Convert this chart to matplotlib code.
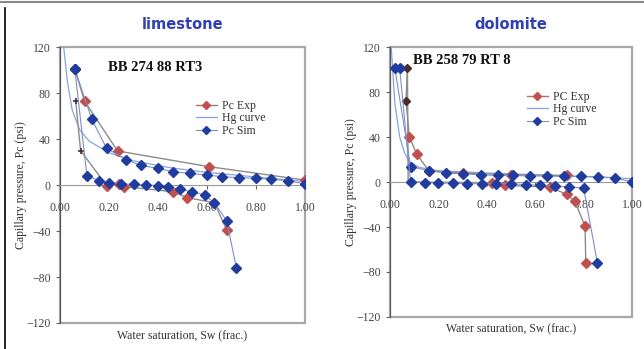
import matplotlib
matplotlib.use("Agg")
import matplotlib.pyplot as plt
from matplotlib.lines import Line2D

# ---- limestone (BB 274 88 RT3) ----
ls_sim_dr_sw = [0.06, 0.13, 0.19, 0.27, 0.33, 0.40, 0.46, 0.53, 0.60, 0.66, 0.73, 0.80, 0.86, 0.93, 1.00]
ls_sim_dr_pc = [101, 57, 32, 22, 17, 14.5, 11.6, 10.1, 8.7, 7.2, 6.4, 5.8, 4.9, 3.8, 0.9]
ls_sim_im_sw = [0.06, 0.11, 0.16, 0.20, 0.25, 0.30, 0.35, 0.40, 0.44, 0.49, 0.54, 0.59, 0.63, 0.68, 0.72]
ls_sim_im_pc = [101, 7.8, 3.8, 2.0, 0.9, 0.6, 0.0, -0.6, -2.0, -3.8, -5.8, -8.7, -15.4, -31, -72]
ls_exp_dr_sw = [0.06, 0.10, 0.235, 0.61, 1.00]
ls_exp_dr_pc = [101, 73, 29.6, 15.9, 4.3]
ls_exp_im_sw = [0.064, 0.084, 0.19, 0.24, 0.26, 0.46, 0.52, 0.63, 0.68]
ls_exp_im_pc = [73, 30, -0.6, 0.6, -1.4, -5.8, -11, -15.4, -39]
ls_hg_sw = [0.015, 0.03, 0.05, 0.08, 0.12, 0.20, 0.30, 0.45, 0.60, 0.80, 1.00]
ls_hg_pc = [120, 90, 65, 48, 38, 28, 21, 15, 11, 7, 3]
ls_dark = 2  # first points of the imbibition Exp branch drawn as small dark crosses

# ---- dolomite (BB 258 79 RT 8) ----
do_sim_dr_sw = [0.02, 0.085, 0.16, 0.23, 0.30, 0.375, 0.445, 0.51, 0.58, 0.65, 0.72, 0.79, 0.86, 0.93, 1.00]
do_sim_dr_pc = [101, 13.7, 10.2, 7.9, 7.3, 6.4, 5.8, 5.8, 5.3, 5.3, 4.9, 4.9, 4.4, 3.8, 0.0]
do_sim_im_sw = [0.04, 0.085, 0.145, 0.20, 0.26, 0.32, 0.38, 0.44, 0.50, 0.56, 0.62, 0.68, 0.74, 0.80, 0.857]
do_sim_im_pc = [101, 0.0, -0.6, -1.0, -1.0, -1.5, -1.5, -1.5, -1.5, -2.3, -3.0, -3.5, -4.4, -5.3, -72]
do_exp_dr_sw = [0.072, 0.066, 0.08, 0.11, 0.16, 0.30, 0.50, 0.73]
do_exp_dr_pc = [101, 72, 40, 25, 10, 8, 6.5, 5.8]
do_exp_im_sw = [0.072, 0.075, 0.42, 0.475, 0.66, 0.73, 0.764, 0.806, 0.809]
do_exp_im_pc = [101, 0.0, -0.6, -3.0, -4.4, -11, -17, -39.5, -72]
do_hg_sw = [0.005, 0.02, 0.04, 0.06, 0.08, 0.12, 0.20, 0.40, 0.60, 0.80, 1.00]
do_hg_pc = [120, 70, 40, 26, 18, 13, 10, 8, 6.5, 5, 3]

yticks = [-120, -80, -40, 0, 40, 80, 120]
xticks = [0.0, 0.2, 0.4, 0.6, 0.8, 1.0]

RED = "#c0504d"
BLUE = "#1f3c9e"
SIMLINE = "#7d8fc8"
HG = "#8aa2e0"
GREY = "#8c8c8c"
DARK = "#4a2c2c"
SERIF = "Liberation Serif"

fig = plt.figure(figsize=(6.44, 3.49), dpi=100)
fig.patch.set_facecolor("white")

# outer frame of the picture
fig.add_artist(Line2D([0, 1], [0.994, 0.994], color="#8a8a8a", lw=1.5))
fig.add_artist(Line2D([0.008, 0.008], [0, 0.977], color="black", lw=1.2))


def panel(rect, title, tag, tag_xy, leg_anchor, exp_label, d, dark_first):
    ax = fig.add_axes(rect)
    (sdr_x, sdr_y, sim_x, sim_y, edr_x, edr_y, eim_x, eim_y, hg_x, hg_y) = d

    ax.plot(hg_x, hg_y, color=HG, lw=0.9, zorder=2)
    ax.plot(edr_x, edr_y, color=GREY, lw=1.0, zorder=2)
    ax.plot(eim_x, eim_y, color=GREY, lw=1.0, zorder=2)

    # Exp markers; a few early points appear as small dark marks
    if dark_first == "ls":
        ax.plot(edr_x, edr_y, ls="none", marker="D", ms=5, color=RED, zorder=3)
        ax.plot(eim_x[ls_dark:], eim_y[ls_dark:], ls="none", marker="D", ms=5, color=RED, zorder=3)
        ax.plot(eim_x[:ls_dark], eim_y[:ls_dark], ls="none", marker="+", ms=5,
                mew=1.2, color=DARK, zorder=3)
    else:
        ax.plot(edr_x[2:], edr_y[2:], ls="none", marker="D", ms=5, color=RED, zorder=3)
        ax.plot(eim_x[2:], eim_y[2:], ls="none", marker="D", ms=5, color=RED, zorder=3)
        ax.plot(edr_x[:2], edr_y[:2], ls="none", marker="D", ms=4, color=DARK, zorder=3)

    ax.plot(sdr_x, sdr_y, color=SIMLINE, lw=0.8, marker="D", ms=5,
            mfc=BLUE, mec=BLUE, zorder=4)
    ax.plot(sim_x, sim_y, color=SIMLINE, lw=0.8, marker="D", ms=5,
            mfc=BLUE, mec=BLUE, zorder=4)

    ax.set_xlim(0, 1)
    ax.set_ylim(-120, 120)
    ax.set_yticks(yticks)
    ax.set_xticks(xticks)
    ax.set_xticklabels([f"{v:.2f}" for v in xticks])

    for s in ("top", "right"):
        ax.spines[s].set_visible(False)
    ax.spines["left"].set_color("#555555")
    ax.spines["bottom"].set_position(("data", 0))
    ax.spines["bottom"].set_color("#9a9a9a")
    ax.patch.set_edgecolor("#a8a8a8")
    ax.patch.set_linewidth(1.6)

    ax.tick_params(axis="both", direction="out", length=3, width=0.8,
                   colors="#666666", labelsize=8.5, labelcolor="#444444")
    ax.tick_params(axis="x", pad=9)
    for lab in ax.get_xticklabels() + ax.get_yticklabels():
        lab.set_fontfamily(SERIF)

    ax.set_xlabel("Water saturation, Sw (frac.)", fontfamily=SERIF, fontsize=8.5,
                  color="#333333")
    ax.xaxis.set_label_coords(0.5, -0.025)
    ax.set_ylabel("Capillary pressure, Pc (psi)", fontfamily=SERIF, fontsize=8.5,
                  color="#333333", labelpad=0)

    ax.set_title(title, fontsize=10.5, fontweight="bold", color="#2f3fb5",
                 fontfamily="DejaVu Sans", pad=13)
    ax.text(tag_xy[0], tag_xy[1], tag, transform=ax.transAxes, fontfamily=SERIF,
            fontsize=10.5, fontweight="bold", va="center", ha="left", color="#111111")

    handles = [
        Line2D([], [], color="#b07070", lw=1.0, marker="D", ms=4, mfc=RED, mec=RED),
        Line2D([], [], color=HG, lw=0.9),
        Line2D([], [], color=SIMLINE, lw=0.8, marker="D", ms=4, mfc=BLUE, mec=BLUE),
    ]
    leg = ax.legend(handles, [exp_label, "Hg curve", "Pc Sim"], loc="upper left",
                    bbox_to_anchor=leg_anchor, frameon=False, handlelength=1.8,
                    handletextpad=0.4, labelspacing=0.05, borderpad=0,
                    prop={"family": SERIF, "size": 8.5})
    for t in leg.get_texts():
        t.set_color("#333333")
    return ax


panel([0.0932, 0.0745, 0.3804, 0.7908], "limestone", "BB 274 88 RT3", (0.196, 0.924),
      (0.53, 0.83), "Pc Exp",
      (ls_sim_dr_sw, ls_sim_dr_pc, ls_sim_im_sw, ls_sim_im_pc, ls_exp_dr_sw, ls_exp_dr_pc,
       ls_exp_im_sw, ls_exp_im_pc, ls_hg_sw, ls_hg_pc), "ls")
panel([0.6056, 0.0917, 0.3758, 0.7736], "dolomite", "BB 258 79 RT 8", (0.095, 0.95),
      (0.54, 0.86), "PC Exp",
      (do_sim_dr_sw, do_sim_dr_pc, do_sim_im_sw, do_sim_im_pc, do_exp_dr_sw, do_exp_dr_pc,
       do_exp_im_sw, do_exp_im_pc, do_hg_sw, do_hg_pc), "do")

fig.savefig("out.png", dpi=100)
